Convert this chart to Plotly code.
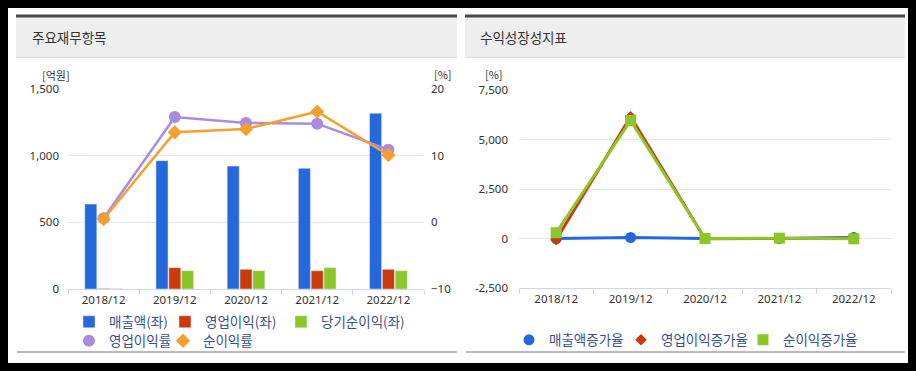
import plotly.graph_objects as go

# The page body keeps an 8px margin, so the figure is 900x355 placed at (8, 8).
W, H = 900, 355
OFF = 8

periods = ["2018/12", "2019/12", "2020/12", "2021/12", "2022/12"]

# Left chart: 주요재무항목 (억원 / %)
sales = [637, 962, 922, 905, 1318]
op_profit = [4, 160, 148, 137, 148]
net_income = [3, 137, 137, 160, 137]
op_margin = [0.6, 15.8, 14.9, 14.8, 10.9]
net_margin = [0.5, 13.5, 14.0, 16.6, 10.1]

# Right chart: 수익성장성지표 (%)
sales_growth = [0, 51, -4, -2, 46]
op_growth = [-60, 6150, -8, -8, 8]
net_growth = [290, 5960, 0, 17, -14]

left_ticks = [0, 500, 1000, 1500]
left_ticktext = ["0", "500", "1,000", "1,500"]
pct_ticks = [-10, 0, 10, 20]
right_ticks = [-2500, 0, 2500, 5000, 7500]
right_ticktext = ["-2,500", "0", "2,500", "5,000", "7,500"]

BLUE = "#2468dc"
RED = "#cc3a0c"
GREEN = "#8cc628"
PURPLE = "#a98bdf"
ORANGE = "#f5a02e"

FONT = "Noto Sans, Noto Sans CJK KR, sans-serif"
KFONT = "Noto Sans CJK KR, Noto Sans, sans-serif"
LEGCOL = "#3a5088"


def px(x):
    return (x - OFF) / W


def py(y):
    return 1 - (y - OFF) / H


fig = go.Figure()

# --- left chart
fig.add_trace(go.Bar(x=periods, y=sales, name="매출액(좌)", marker_color=BLUE,
                     xaxis="x", yaxis="y", legend="legend", legendwidth=51))
fig.add_trace(go.Bar(x=periods, y=op_profit, name="영업이익(좌)", marker_color=RED,
                     xaxis="x", yaxis="y", legend="legend", legendwidth=71))
fig.add_trace(go.Bar(x=periods, y=net_income, name="당기순이익(좌)", marker_color=GREEN,
                     xaxis="x", yaxis="y", legend="legend", legendwidth=110))

line_left = [
    ("영업이익률", op_margin, PURPLE, "circle", 12, 49),
    ("순이익률", net_margin, ORANGE, "diamond", 11, 90),
]
for name, vals, col, sym, size, lw in line_left:
    fig.add_trace(go.Scatter(x=periods, y=vals, name=name, mode="lines+markers",
                             line=dict(color=col, width=2.5),
                             marker=dict(symbol=sym, size=size, color=col),
                             xaxis="x", yaxis="y2", showlegend=False))
    fig.add_trace(go.Scatter(x=[None], y=[None], name=name, mode="markers",
                             marker=dict(symbol=sym, size=size, color=col),
                             xaxis="x", yaxis="y2", legend="legend2", legendwidth=lw))

# --- right chart
line_right = [
    ("매출액증가율", sales_growth, BLUE, "circle", 11, 67),
    ("영업이익증가율", op_growth, RED, "diamond", 9, 77),
    ("순이익증가율", net_growth, GREEN, "square", 11, 110),
]
for name, vals, col, sym, size, lw in line_right:
    fig.add_trace(go.Scatter(x=periods, y=vals, name=name, mode="lines+markers",
                             line=dict(color=col, width=3),
                             marker=dict(symbol=sym, size=size, color=col),
                             xaxis="x3", yaxis="y3", showlegend=False))
for name, vals, col, sym, size, lw in line_right:
    fig.add_trace(go.Scatter(x=[None], y=[None], name=name, mode="markers",
                             marker=dict(symbol=sym, size=size, color=col),
                             xaxis="x3", yaxis="y3", legend="legend3", legendwidth=lw))

shapes = []
for (a, b) in [(16, 457), (465, 905)]:
    shapes.append(dict(type="rect", xref="paper", yref="paper", x0=px(a), x1=px(b), y0=py(57), y1=py(17),
                       fillcolor="#eeeeee", line_width=0, layer="below"))
    shapes.append(dict(type="rect", xref="paper", yref="paper", x0=px(a), x1=px(b), y0=py(17.5), y1=py(14.5),
                       fillcolor="#4a4a4a", line_width=0, layer="below"))
    shapes.append(dict(type="line", xref="paper", yref="paper", x0=px(a), x1=px(b), y0=py(57.5), y1=py(57.5),
                       line=dict(color="#dddddd", width=1), layer="below"))
    shapes.append(dict(type="line", xref="paper", yref="paper", x0=px(a + 1), x1=px(b), y0=py(352), y1=py(352),
                       line=dict(color="#bbbbbb", width=2), layer="below"))

small = dict(family=KFONT, size=11, color="#333333")
annotations = [
    dict(text="주요재무항목", x=px(30), y=py(37), xref="paper", yref="paper", xanchor="left", yanchor="middle",
         showarrow=False, font=dict(family=KFONT, size=13.5, color="#333333")),
    dict(text="수익성장성지표", x=px(478), y=py(37), xref="paper", yref="paper", xanchor="left", yanchor="middle",
         showarrow=False, font=dict(family=KFONT, size=13.5, color="#333333")),
    dict(text="[억원]", x=px(56), y=py(75), xref="paper", yref="paper", xanchor="center", yanchor="middle",
         showarrow=False, font=small),
    dict(text="[%]", x=px(443), y=py(74), xref="paper", yref="paper", xanchor="center", yanchor="middle",
         showarrow=False, font=small),
    dict(text="[%]", x=px(494), y=py(74), xref="paper", yref="paper", xanchor="center", yanchor="middle",
         showarrow=False, font=small),
]

tickfont = dict(family=FONT, size=11.5, color="#333333")
xcommon = dict(type="category", range=[-0.5, 4.5], showgrid=False, showline=True, linecolor="#cfd8e0",
               linewidth=1, ticks="outside", tickson="boundaries", ticklen=5, tickcolor="#cfd8e0",
               tickfont=tickfont, fixedrange=True, automargin=False)

legfont = dict(family=KFONT, size=13.5, color=LEGCOL)

fig.update_layout(
    width=W, height=H, margin=dict(l=0, r=0, t=0, b=0, autoexpand=False),
    paper_bgcolor="white", plot_bgcolor="rgba(0,0,0,0)",
    font=dict(family=FONT),
    barmode="group", bargap=0.46, bargroupgap=0.06,
    shapes=shapes, annotations=annotations,
    xaxis=dict(domain=[px(68), px(424)], anchor="y", **xcommon),
    yaxis=dict(domain=[py(289), py(89)], range=[0, 1500], tickvals=left_ticks, ticktext=left_ticktext,
               showgrid=True, gridcolor="#e3e8ee", zeroline=False, showline=False, ticks="",
               ticklabelstandoff=8, tickfont=tickfont, anchor="x", automargin=False),
    yaxis2=dict(domain=[py(289), py(89)], range=[-10, 20], tickvals=pct_ticks, overlaying="y", side="right",
                anchor="x", showgrid=False, zeroline=False, showline=False, ticks="",
                ticklabelstandoff=6, tickfont=tickfont, automargin=False),
    xaxis3=dict(domain=[px(519), px(891)], anchor="y3", **xcommon),
    yaxis3=dict(domain=[py(288), py(90)], range=[-2500, 7500], tickvals=right_ticks, ticktext=right_ticktext,
                showgrid=True, gridcolor="#e3e8ee", zeroline=False, showline=False, ticks="",
                ticklabelstandoff=10, tickfont=tickfont, anchor="x3", automargin=False),
    legend=dict(orientation="h", x=px(69), y=py(322), xanchor="left", yanchor="middle",
                bgcolor="rgba(0,0,0,0)", font=legfont, itemclick=False, itemdoubleclick=False),
    legend2=dict(orientation="h", x=px(69), y=py(341), xanchor="left", yanchor="middle",
                 bgcolor="rgba(0,0,0,0)", font=legfont, itemclick=False, itemdoubleclick=False),
    legend3=dict(orientation="h", x=px(509), y=py(340), xanchor="left", yanchor="middle",
                 bgcolor="rgba(0,0,0,0)", font=legfont, itemclick=False, itemdoubleclick=False),
    hovermode=False,
)

fig.write_html("out.html", config={"displayModeBar": False},
               post_script="document.body.style.background = 'black';")
